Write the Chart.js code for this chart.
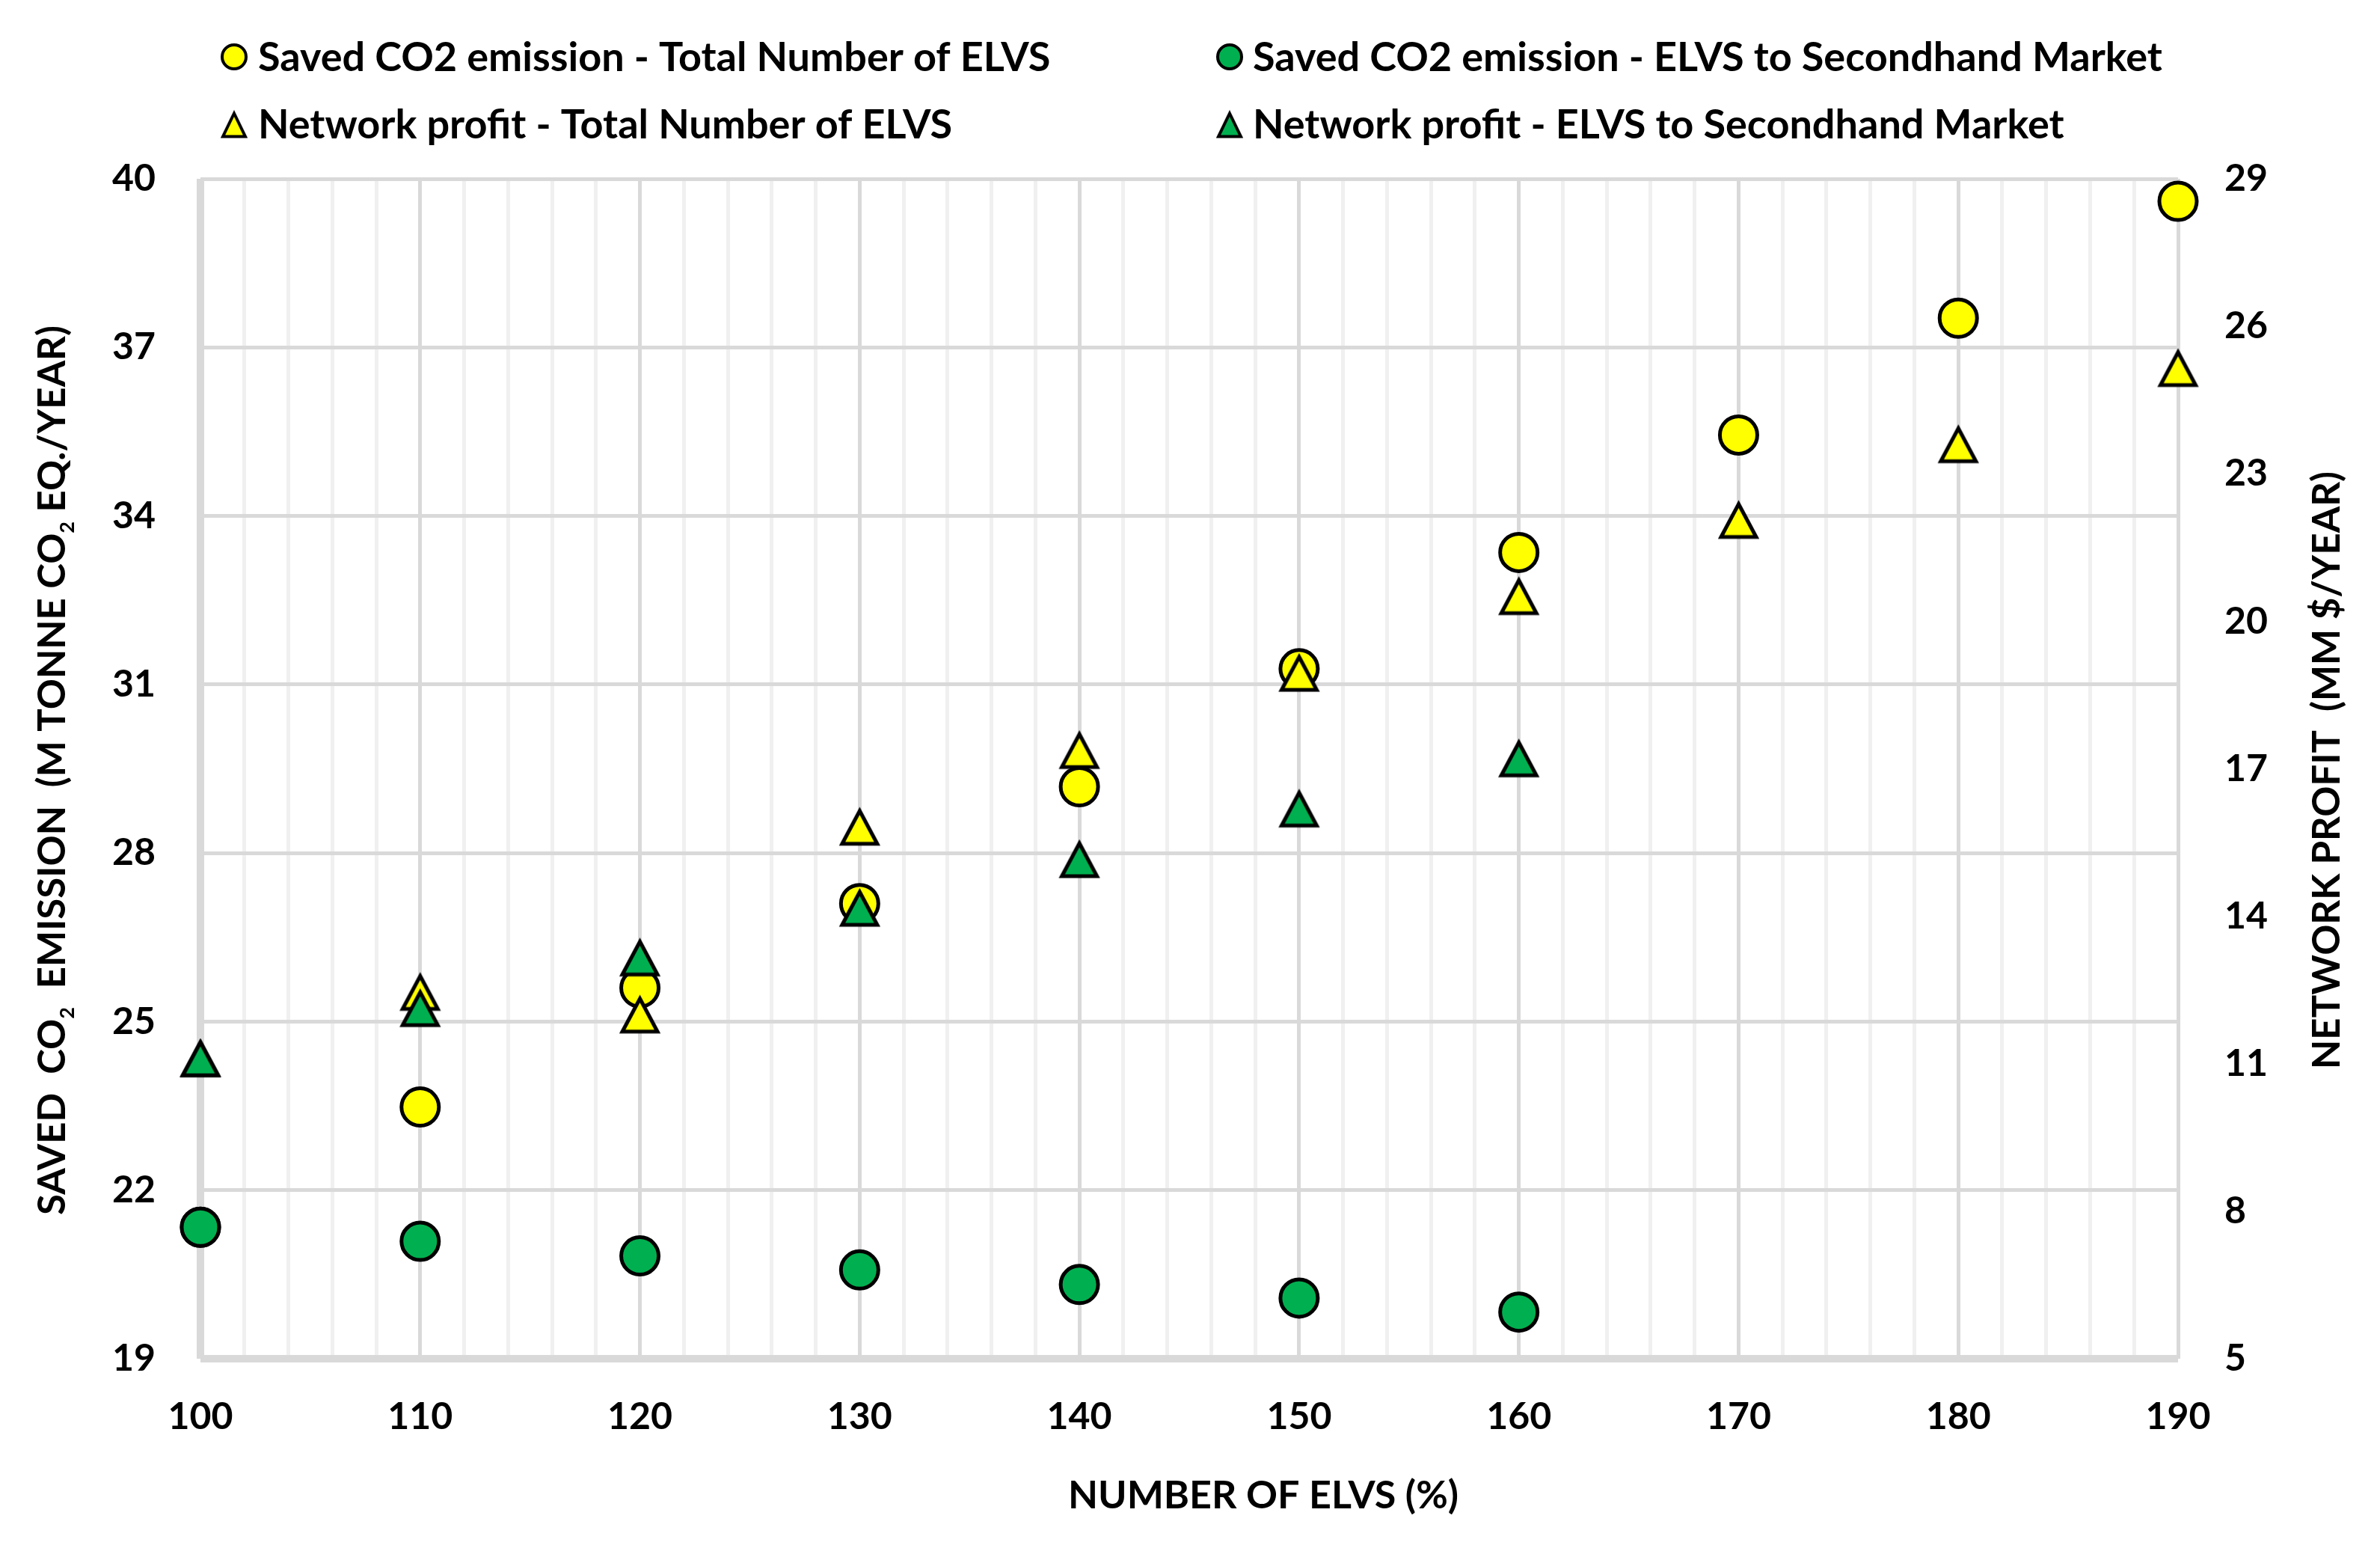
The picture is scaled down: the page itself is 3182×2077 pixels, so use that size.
<!DOCTYPE html>
<html>
<head>
<meta charset="utf-8">
<script src="https://cdn.jsdelivr.net/npm/chart.js@4.4.1/dist/chart.umd.min.js"></script>
<style>
  html, body { margin: 0; padding: 0; background: #ffffff; }
  canvas { display: block; }
</style>
</head>
<body>
<canvas id="c" width="3182" height="2077"></canvas>
<script>
// ---------------- DATA ----------------
const elvsPercent        = [100, 110, 120, 130, 140, 150, 160, 170, 180, 190];
const co2Total           = [21.34, 23.48, 25.60, 27.10, 29.18, 31.28, 33.35, 35.44, 37.52, 39.60];
const elvsPercentSecond  = [100, 110, 120, 130, 140, 150, 160];
const co2Secondhand      = [21.34, 21.09, 20.83, 20.58, 20.32, 20.08, 19.83];
const profitTotal        = [11.10, 12.45, 11.99, 15.81, 17.37, 18.94, 20.50, 22.05, 23.59, 25.14];
const profitSecondhand   = [11.10, 12.12, 13.15, 14.16, 15.15, 16.18, 17.20];

const seriesLabels = [
  'Saved CO2 emission - Total Number of ELVS',
  'Saved CO2 emission - ELVS to Secondhand Market',
  'Network profit - Total Number of ELVS',
  'Network profit - ELVS to Secondhand Market'
];
const xTitle = 'NUMBER OF ELVS (%)';
const leftTitleParts = [['SAVED  CO', false], ['2', true], ['  EMISSION  (M TONNE CO', false], ['2', true], [' EQ./YEAR)', false]];
const rightTitle = 'NETWORK PROFIT  (MM $/YEAR)';

// ---------------- STYLE ----------------
const YELLOW = '#FFFF00';
const GREEN = '#00B050';
const FONT = 'Lato, "Open Sans", "Noto Sans", sans-serif';

function makeTriangle(w, h, lw, fill) {
  const pad = lw * 2;
  const c = document.createElement('canvas');
  const cw = Math.ceil(w + pad * 2), ch = Math.ceil(h + pad * 2);
  c.width = cw; c.height = ch;
  const g = c.getContext('2d');
  g.translate(cw / 2, ch / 2);
  g.beginPath();
  g.moveTo(0, -h / 2); g.lineTo(w / 2, h / 2); g.lineTo(-w / 2, h / 2); g.closePath();
  g.fillStyle = fill; g.fill();
  g.lineWidth = lw; g.lineJoin = 'miter'; g.strokeStyle = '#000000'; g.stroke();
  return c;
}
const triYellow = makeTriangle(47, 44, 5, YELLOW);
const triGreen = makeTriangle(47, 44, 5, GREEN);
const triYellowSmall = makeTriangle(30, 31, 4, YELLOW);
const triGreenSmall = makeTriangle(30, 31, 4, GREEN);

const toPoints = (xs, ys) => xs.map((x, i) => ({ x: x, y: ys[i] }));

// ---------------- PLUGIN: legend grid + axis titles ----------------
const decorPlugin = {
  id: 'decor',
  afterDraw(chart) {
    const ctx = chart.ctx;
    ctx.save();
    // legend (2 x 2 grid)
    const cols = [{ mx: 313, tx: 345 }, { mx: 1644, tx: 1675 }];
    const rows = [{ my: 76, by: 95 }, { my: 167, by: 185 }];
    ctx.font = 'bold 54px ' + FONT;
    ctx.textAlign = 'left';
    ctx.textBaseline = 'alphabetic';
    chart.data.datasets.forEach((ds, i) => {
      const c = cols[i % 2], r = rows[Math.floor(i / 2)];
      if (ds.pointStyle === 'circle') {
        ctx.beginPath();
        ctx.arc(c.mx, r.my, 16, 0, Math.PI * 2);
        ctx.fillStyle = ds.backgroundColor; ctx.fill();
        ctx.lineWidth = 4; ctx.strokeStyle = '#000'; ctx.stroke();
      } else {
        const img = ds.legendImage;
        ctx.drawImage(img, c.mx - img.width / 2, r.my - img.height / 2);
      }
      ctx.fillStyle = '#000';
      ctx.fillText(ds.label, c.tx, r.by);
    });

    const area = chart.chartArea;
    const cy = (area.top + area.bottom) / 2 + 2;
    const mainSize = 51, subSize = 27;

    // x title
    ctx.font = 'bold 52px ' + FONT;
    ctx.textAlign = 'center';
    ctx.fillText(xTitle, 1689, 2016);
    ctx.textAlign = 'left';

    // left title with subscripts (rotated, reading bottom to top)
    let total = 0;
    const widths = leftTitleParts.map(([t, sub]) => {
      ctx.font = 'bold ' + (sub ? subSize : mainSize) + 'px ' + FONT;
      const w = ctx.measureText(t).width; total += w; return w;
    });
    ctx.save();
    ctx.translate(87, cy);
    ctx.rotate(-Math.PI / 2);
    let x = -total / 2;
    leftTitleParts.forEach(([t, sub], i) => {
      ctx.font = 'bold ' + (sub ? subSize : mainSize) + 'px ' + FONT;
      ctx.fillText(t, x, sub ? 12 : 0);
      x += widths[i];
    });
    ctx.restore();

    // right title (rotated, reading bottom to top)
    ctx.save();
    ctx.font = 'bold ' + mainSize + 'px ' + FONT;
    ctx.translate(3128, cy);
    ctx.rotate(-Math.PI / 2);
    ctx.textAlign = 'center';
    ctx.fillText(rightTitle, 0, 0);
    ctx.restore();

    ctx.restore();
  }
};

// ---------------- CHART ----------------
const tickFont = { family: FONT, size: 50, weight: 'bold' };

new Chart(document.getElementById('c'), {
  type: 'scatter',
  data: {
    datasets: [
      {
        label: seriesLabels[0], data: toPoints(elvsPercent, co2Total), yAxisID: 'y',
        pointStyle: 'circle', pointRadius: 25, backgroundColor: YELLOW, borderColor: '#000', borderWidth: 5,
        order: 4, clip: false
      },
      {
        label: seriesLabels[1], data: toPoints(elvsPercentSecond, co2Secondhand), yAxisID: 'y',
        pointStyle: 'circle', pointRadius: 25, backgroundColor: GREEN, borderColor: '#000', borderWidth: 5,
        order: 3, clip: false
      },
      {
        label: seriesLabels[2], data: toPoints(elvsPercent, profitTotal), yAxisID: 'y2',
        pointStyle: triYellow, legendImage: triYellowSmall, backgroundColor: YELLOW, borderColor: '#000',
        order: 2, clip: false
      },
      {
        label: seriesLabels[3], data: toPoints(elvsPercentSecond, profitSecondhand), yAxisID: 'y2',
        pointStyle: triGreen, legendImage: triGreenSmall, backgroundColor: GREEN, borderColor: '#000',
        order: 1, clip: false
      }
    ]
  },
  options: {
    responsive: false,
    animation: false,
    events: [],
    layout: { padding: { top: 239, left: 0, right: 0, bottom: 0 } },
    plugins: { legend: { display: false }, tooltip: { enabled: false }, title: { display: false } },
    scales: {
      x: {
        type: 'linear', position: 'bottom', min: 100, max: 190,
        afterFit: s => { s.height = 261; },
        ticks: {
          stepSize: 2, autoSkip: false, maxRotation: 0, minRotation: 0,
          callback: v => (v % 10 === 0 ? String(v) : ''),
          font: tickFont, color: '#000', padding: 48
        },
        grid: {
          drawTicks: false,
          color: c => (c.tick && c.tick.value % 10 === 0) ? '#D9D9D9' : '#F0F0F0',
          lineWidth: c => (c.tick && c.tick.value === 100) ? 10 : 5
        },
        border: { display: false },
        title: { display: false }
      },
      y: {
        type: 'linear', position: 'left', min: 19, max: 40,
        afterFit: s => { s.width = 268; },
        ticks: { stepSize: 3, font: tickFont, color: '#000', padding: 60 },
        grid: {
          drawTicks: false, color: '#D9D9D9',
          lineWidth: c => (c.tick && c.tick.value === 19) ? 10 : 5
        },
        border: { display: false }
      },
      y2: {
        type: 'linear', position: 'right', min: 5, max: 29,
        afterFit: s => { s.width = 270; },
        ticks: { stepSize: 3, font: tickFont, color: '#000', padding: 62 },
        grid: { drawOnChartArea: false, drawTicks: false },
        border: { display: false }
      }
    }
  },
  plugins: [decorPlugin]
});
</script>
</body>
</html>
